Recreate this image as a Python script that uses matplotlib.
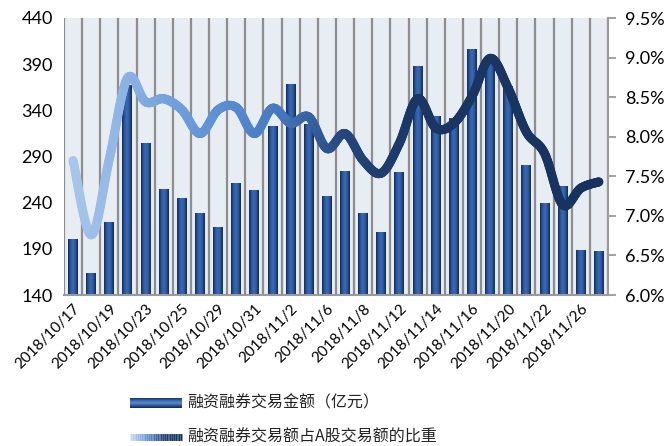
import numpy as np
import matplotlib.pyplot as plt
from matplotlib.collections import LineCollection
from matplotlib.colors import LinearSegmentedColormap

plt.rcParams['font.family'] = ['Lato', 'Noto Sans CJK SC', 'DejaVu Sans']

# trading days 2018/10/17 - 2018/11/27
dates = ['2018/10/17', '2018/10/18', '2018/10/19', '2018/10/22', '2018/10/23',
         '2018/10/24', '2018/10/25', '2018/10/26', '2018/10/29', '2018/10/30',
         '2018/10/31', '2018/11/1', '2018/11/2', '2018/11/5', '2018/11/6',
         '2018/11/7', '2018/11/8', '2018/11/9', '2018/11/12', '2018/11/13',
         '2018/11/14', '2018/11/15', '2018/11/16', '2018/11/19', '2018/11/20',
         '2018/11/21', '2018/11/22', '2018/11/23', '2018/11/26', '2018/11/27']
amount = [200, 163, 218, 367, 304, 254, 245, 228, 213, 261,
          253, 322, 368, 325, 247, 274, 228, 208, 273, 387,
          333, 331, 406, 398, 366, 280, 239, 257, 188, 187]
ratio = [7.70, 6.76, 7.72, 8.74, 8.44, 8.48, 8.34, 8.04, 8.34, 8.37,
         8.04, 8.36, 8.17, 8.25, 7.85, 8.04, 7.70, 7.54, 7.92, 8.48,
         8.11, 8.17, 8.51, 8.99, 8.61, 8.06, 7.79, 7.14, 7.35, 7.43]

bar_label = '融资融券交易金额（亿元）'
line_label = '融资融券交易额占A股交易额的比重'

bar_cmap = LinearSegmentedColormap.from_list(
    'bar', ['#142b55', '#2b58a0', '#3a6bb8', '#2a559c', '#122950'])
line_cmap = LinearSegmentedColormap.from_list(
    'line', [(0, '#a8c6ea'), (0.12, '#86afe2'), (0.28, '#5b8fd6'),
             (0.40, '#4677bd'), (0.52, '#25467c'), (0.65, '#1a3763'), (1, '#17325e')])


def smooth(xs, ys, n=24):
    # catmull-rom style smoothing like an Excel smoothed line
    p = np.column_stack([xs, ys]).astype(float)
    p = np.vstack([p[0], p, p[-1]])
    out = []
    for i in range(1, len(p) - 2):
        a, b = p[i], p[i + 1]
        c1 = a + (p[i + 1] - p[i - 1]) / 6
        c2 = b - (p[i + 2] - p[i]) / 6
        t = np.linspace(0, 1, n, endpoint=(i == len(p) - 3))[:, None]
        out.append((1 - t) ** 3 * a + 3 * (1 - t) ** 2 * t * c1 + 3 * (1 - t) * t ** 2 * c2 + t ** 3 * b)
    return np.vstack(out)


fig = plt.figure(figsize=(6.67, 4.46), dpi=100)
ax = fig.add_axes([64 / 667, 1 - 295 / 446, 544 / 667, 277 / 446])
x = np.arange(len(dates))

ax.set_facecolor('#e8ecf3')
for b in np.arange(-0.5, len(dates), 1.0):
    ax.axvline(b, color='#8e8e8e', lw=1.6, zorder=1)

ax.set_ylim(140, 440)
bars = ax.bar(x, amount, width=0.55, color='#2b58a0', zorder=2)
grad = np.linspace(0, 1, 64).reshape(1, -1)
ymin = ax.get_ylim()[0]
for r in bars:
    x0, w, h = r.get_x(), r.get_width(), r.get_height()
    ax.imshow(grad, cmap=bar_cmap, aspect='auto', extent=[x0, x0 + w, ymin, h], zorder=3)
ax.set_xlim(-0.5, len(dates) - 0.5)
ax.set_ylim(140, 440)
ax.set_yticks(np.arange(140, 441, 50))

ax.set_xticks(x[::2])
ax.set_xticklabels(dates[::2], rotation=45, ha='right', rotation_mode='anchor', fontsize=11)
ax.tick_params(axis='x', length=0, pad=5)
ax.tick_params(axis='y', length=0, labelsize=13, pad=8)
for s in ['top', 'left', 'right']:
    ax.spines[s].set_visible(False)
ax.spines['bottom'].set_color('#9a9a9a')
ax.spines['bottom'].set_linewidth(1.5)
ax.spines['bottom'].set_zorder(4)

ax2 = ax.twinx()
ax2.set_ylim(6.0, 9.5)
ax2.set_yticks(np.arange(6.0, 9.51, 0.5))
ax2.set_yticklabels(['%.1f%%' % v for v in np.arange(6.0, 9.51, 0.5)])
ax2.tick_params(axis='y', labelsize=13, length=6, width=1.3, color='#9a9a9a', pad=6)
for s in ['top', 'left', 'bottom']:
    ax2.spines[s].set_visible(False)
ax2.spines['right'].set_color('#9a9a9a')
ax2.spines['right'].set_linewidth(1.5)

pts = smooth(x, ratio)
segs = np.stack([pts[:-1], pts[1:]], axis=1)
lc = LineCollection(segs, cmap=line_cmap, linewidths=6.5, capstyle='round', joinstyle='round', zorder=5)
lc.set_array(pts[:-1, 0] / (len(dates) - 1))
ax2.add_collection(lc)

# legend
lax = fig.add_axes([130 / 667, 1 - 408 / 446, 52 / 667, 10 / 446])
lax.imshow(np.linspace(0, 1, 32).reshape(-1, 1),
           cmap=LinearSegmentedColormap.from_list('lg', ['#1a3560', '#3a6bb8', '#5b88c8', '#2f5aa0', '#14284f']),
           aspect='auto')
lax.axis('off')
fig.text(187 / 667, 1 - 403 / 446, bar_label, fontsize=11.5, va='center', color='#222222',
         family=['Noto Sans CJK SC', 'DejaVu Sans'])

lx = np.linspace(130, 182, 30) / 667
ly = np.full(30, 1 - 437 / 446)
lp = np.column_stack([lx, ly])
lseg = np.stack([lp[:-1], lp[1:]], axis=1)
llc = LineCollection(lseg, cmap=LinearSegmentedColormap.from_list('ll', ['#c5d9f1', '#5b8fd6', '#1f3d6e', '#17325e']),
                     linewidths=5, transform=fig.transFigure)
llc.set_array(np.linspace(0, 1, 29))
fig.add_artist(llc)
fig.text(187 / 667, 1 - 437 / 446, line_label, fontsize=11.5, va='center', color='#222222',
         family=['Noto Sans CJK SC', 'DejaVu Sans'])

fig.savefig('out.png', dpi=100)
